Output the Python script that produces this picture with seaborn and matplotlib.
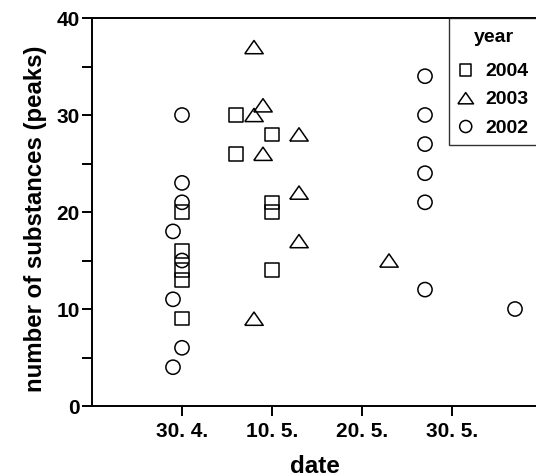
import pandas as pd
import numpy as np
import seaborn as sns
import matplotlib.pyplot as plt

# Daten: Datum (Tag-Monat) und Anzahl Substanzen je Jahr
dates_2004 = ["04-30", "04-30", "04-30", "04-30", "04-30",
              "05-06", "05-06", "05-10", "05-10", "05-10", "05-10"]
peaks_2004 = [20, 16, 14, 13, 9, 30, 26, 28, 21, 20, 14]

dates_2003 = ["05-08", "05-08", "05-08", "05-09", "05-09",
              "05-13", "05-13", "05-13", "05-23"]
peaks_2003 = [37, 30, 9, 31, 26, 28, 22, 17, 15]

dates_2002 = ["04-29", "04-29", "04-29",
              "04-30", "04-30", "04-30", "04-30", "04-30",
              "05-27", "05-27", "05-27", "05-27", "05-27", "05-27",
              "06-06"]
peaks_2002 = [18, 11, 4, 30, 23, 21, 15, 6, 34, 30, 27, 24, 21, 12, 10]

years = ["2004", "2003", "2002"]
tick_dates = ["04-30", "05-10", "05-20", "05-30"]
tick_labels = ["30. 4.", "10. 5.", "20. 5.", "30. 5."]


def to_date(md):
    # gemeinsames Dummy-Jahr, damit alle Jahre auf einer Achse liegen
    return pd.to_datetime(["2001-" + d for d in md])


df = pd.concat([
    pd.DataFrame({"date": to_date(dates_2004), "peaks": peaks_2004, "year": "2004"}),
    pd.DataFrame({"date": to_date(dates_2003), "peaks": peaks_2003, "year": "2003"}),
    pd.DataFrame({"date": to_date(dates_2002), "peaks": peaks_2002, "year": "2002"}),
])

sns.set_style("ticks")
plt.rcParams["font.family"] = ["Liberation Sans", "DejaVu Sans"]
plt.rcParams["font.weight"] = "bold"
plt.rcParams["text.color"] = "black"
plt.rcParams["axes.labelcolor"] = "black"

# breiteres Dreieck als im Standard-Marker
tri = [(-1, -0.72), (1, -0.72), (0, 0.72), (-1, -0.72)]
markers = {"2004": ("s", 95), "2003": (tri, 175), "2002": ("o", 105)}

fig = plt.figure(figsize=(5.36, 4.77), dpi=100)
# Achse reicht ein paar Pixel über den rechten Bildrand hinaus (wie im Original)
ax = fig.add_axes([92 / 536, 70 / 477, 446 / 536, 388 / 477])

for yr in years:
    m, size = markers[yr]
    sns.scatterplot(data=df[df["year"] == yr], x="date", y="peaks",
                    marker=m, s=size, facecolors="none", edgecolor="black",
                    linewidth=1.1, label=yr, ax=ax)

ax.set_xlim(pd.Timestamp("2001-04-20"), pd.Timestamp("2001-06-08 13:20"))
ax.set_ylim(0, 40)
ax.set_yticks([0, 10, 20, 30, 40])
ax.set_yticks([5, 15, 25, 35], minor=True)
ax.set_xticks(to_date(tick_dates))
ax.set_xticklabels(tick_labels)

ax.tick_params(axis="both", which="both", direction="out", length=7,
               width=1.4, color="black", labelsize=15, labelcolor="black")
ax.tick_params(axis="x", pad=4)
ax.tick_params(axis="y", pad=2)
for lab in ax.get_xticklabels() + ax.get_yticklabels():
    lab.set_fontweight("bold")

for side in ["left", "bottom", "top"]:
    ax.spines[side].set_linewidth(1.4)
    ax.spines[side].set_color("black")
ax.spines["right"].set_visible(False)

ax.set_xlabel("date", fontsize=17.5, fontweight="bold", labelpad=10, color="black")
ax.set_ylabel("number of substances (peaks)", fontsize=17.3,
              fontweight="bold", color="black")
ax.yaxis.set_label_coords(-0.10, 0.485)

leg = ax.legend(title="year", loc="upper right", borderaxespad=0,
                fancybox=False, frameon=True, markerscale=0.85,
                handlelength=0.7, handletextpad=0.65, labelspacing=0.55,
                borderpad=0.5, prop={"size": 14, "weight": "bold"},
                title_fontproperties={"size": 14, "weight": "bold"})
leg.get_frame().set_edgecolor("black")
leg.get_frame().set_linewidth(1.0)
# mehr Abstand zwischen Titel und Einträgen
leg._legend_box.sep = 12

fig.savefig("out.png", dpi=100)
